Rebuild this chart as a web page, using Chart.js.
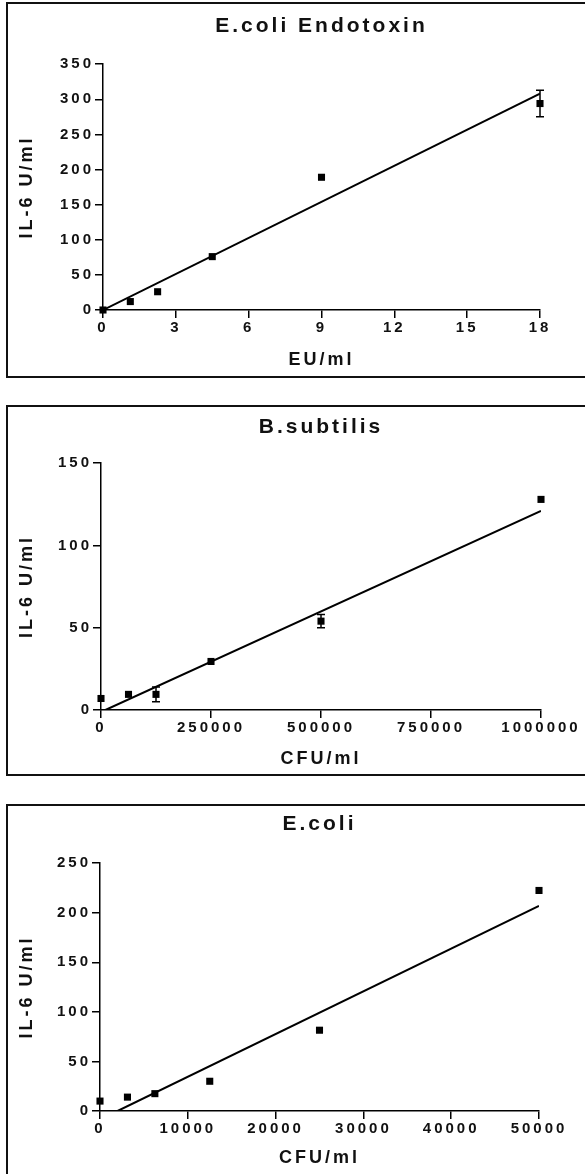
<!DOCTYPE html>
<html>
<head>
<meta charset="utf-8">
<script src="https://cdn.jsdelivr.net/npm/chart.js@4.4.1/dist/chart.umd.min.js"></script>
<style>
body { margin: 0; background: #fff; width: 585px; height: 1174px; overflow: hidden; position: relative; }
.marco { position: absolute; left: 6px; width: 640px; border: 2px solid #111; box-sizing: border-box; }
canvas { position: absolute; left: 0; }
</style>
</head>
<body>
<div class="marco" style="top:2px;height:376px"></div>
<div class="marco" style="top:405px;height:371px"></div>
<div class="marco" style="top:804px;height:420px"></div>
<canvas id="grafico1" width="585" height="374" style="top:3px"></canvas>
<canvas id="grafico2" width="585" height="369" style="top:406px"></canvas>
<canvas id="grafico3" width="585" height="369" style="top:805px"></canvas>
<script>
// E.coli Endotoxin
var endotoxina_x = [0, 1.125, 2.25, 4.5, 9, 18];
var endotoxina_y = [0, 12, 26, 76, 189, 294];
var endotoxina_err = [0, 0, 0, 0, 0, 19];
var endotoxina_ajuste_x = [0, 18];
var endotoxina_ajuste_y = [0, 308];

// B.subtilis
var subtilis_x = [0, 62500, 125000, 250000, 500000, 1000000];
var subtilis_y = [7, 9.5, 9.5, 29.5, 54, 128];
var subtilis_err = [0, 0, 4.5, 0, 4, 0];
var subtilis_ajuste_x = [10000, 1000000];
var subtilis_ajuste_y = [0, 121];

// E.coli
var ecoli_x = [0, 3125, 6250, 12500, 25000, 50000];
var ecoli_y = [10, 14, 17.5, 30, 81.5, 222.5];
var ecoli_err = [0, 0, 0, 0, 0, 0];
var ecoli_ajuste_x = [2000, 50000];
var ecoli_ajuste_y = [0, 207];

var fuente = "'Liberation Sans', Arial, sans-serif";

function puntos(xs, ys) {
    return xs.map(function (x, i) { return { x: x, y: ys[i] }; });
}

const barrasError = {
    id: 'barrasError',
    afterDatasetsDraw(chart) {
        const ctx = chart.ctx;
        const sx = chart.scales.x;
        const sy = chart.scales.y;
        chart.data.datasets.forEach(function (ds) {
            if (!ds.errores) return;
            ctx.save();
            ctx.strokeStyle = '#000';
            ctx.lineWidth = 1.5;
            ds.data.forEach(function (p, i) {
                const e = ds.errores[i];
                if (!e) return;
                const px = sx.getPixelForValue(p.x);
                const arriba = sy.getPixelForValue(p.y + e);
                const abajo = sy.getPixelForValue(p.y - e);
                ctx.beginPath();
                ctx.moveTo(px, arriba); ctx.lineTo(px, abajo);
                ctx.moveTo(px - 4, arriba); ctx.lineTo(px + 4, arriba);
                ctx.moveTo(px - 4, abajo); ctx.lineTo(px + 4, abajo);
                ctx.stroke();
            });
            ctx.restore();
        });
    }
};

// the scanned figure has wide letter spacing on every label
const espaciado = {
    id: 'espaciado',
    beforeUpdate(chart) { chart.ctx.letterSpacing = '3px'; },
    beforeDraw(chart) { chart.ctx.letterSpacing = '3px'; }
};

function grafico(id, c) {
    const ctx = document.getElementById(id).getContext('2d');
    return new Chart(ctx, {
        type: 'scatter',
        data: {
            datasets: [{
                type: 'scatter',
                data: puntos(c.x, c.y),
                errores: c.err,
                pointStyle: 'rect',
                pointRadius: 5,
                backgroundColor: '#000',
                borderColor: '#000',
                borderWidth: 0,
                clip: false,
                order: 1
            }, {
                type: 'scatter',
                data: puntos(c.ajusteX, c.ajusteY),
                showLine: true,
                pointRadius: 0,
                borderColor: '#000',
                borderWidth: 2,
                order: 2
            }]
        },
        options: {
            responsive: false,
            animation: false,
            devicePixelRatio: 1,
            layout: { padding: { left: 0, right: c.derecha, top: 0, bottom: 0 } },
            plugins: {
                legend: { display: false },
                tooltip: { enabled: false },
                title: {
                    display: true,
                    fullSize: false,
                    text: c.titulo,
                    color: '#111',
                    font: { family: fuente, size: 21, weight: 'bold' },
                    padding: { top: c.tituloArriba, bottom: c.tituloAbajo }
                }
            },
            scales: {
                x: {
                    type: 'linear',
                    min: c.xMin, max: c.xMax,
                    afterFit: function (s) { s.height = c.altoX; },
                    border: { display: true, color: '#000', width: 1.5 },
                    grid: { display: true, drawOnChartArea: false, drawTicks: true, tickLength: 8, color: '#000', lineWidth: 1.5 },
                    ticks: {
                        stepSize: c.xPaso,
                        padding: 1,
                        color: '#111',
                        maxRotation: 0,
                        font: { family: fuente, size: 15, weight: 'bold' },
                        callback: function (v) { return String(v); }
                    },
                    title: {
                        display: true,
                        text: c.xTitulo,
                        color: '#111',
                        font: { family: fuente, size: 18, weight: 'bold' },
                        padding: { top: 0, bottom: c.xTituloAbajo }
                    }
                },
                y: {
                    type: 'linear',
                    min: 0, max: c.yMax,
                    afterFit: function (s) { s.width = c.anchoY; },
                    border: { display: true, color: '#000', width: 1.5 },
                    grid: { display: true, drawOnChartArea: false, drawTicks: true, tickLength: 8, color: '#000', lineWidth: 1.5 },
                    ticks: {
                        stepSize: 50,
                        padding: 1,
                        color: '#111',
                        font: { family: fuente, size: 15, weight: 'bold' },
                        callback: function (v) { return String(v); }
                    },
                    title: {
                        display: true,
                        text: 'IL-6 U/ml',
                        color: '#111',
                        font: { family: fuente, size: 18, weight: 'bold' },
                        padding: { top: 16, bottom: 0 }
                    }
                }
            }
        },
        plugins: [espaciado, barrasError]
    });
}

grafico('grafico1', {
    titulo: 'E.coli Endotoxin', xTitulo: 'EU/ml',
    x: endotoxina_x, y: endotoxina_y, err: endotoxina_err,
    ajusteX: endotoxina_ajuste_x, ajusteY: endotoxina_ajuste_y,
    xMin: 0, xMax: 18, xPaso: 3, yMax: 350,
    derecha: 45, anchoY: 103, altoX: 67, xTituloAbajo: 6,
    tituloArriba: 11, tituloAbajo: 25
});

grafico('grafico2', {
    titulo: 'B.subtilis', xTitulo: 'CFU/ml',
    x: subtilis_x, y: subtilis_y, err: subtilis_err,
    ajusteX: subtilis_ajuste_x, ajusteY: subtilis_ajuste_y,
    xMin: 0, xMax: 1000000, xPaso: 250000, yMax: 150,
    derecha: 44, anchoY: 101, altoX: 65, xTituloAbajo: 5,
    tituloArriba: 9, tituloAbajo: 23
});

grafico('grafico3', {
    titulo: 'E.coli', xTitulo: 'CFU/ml',
    x: ecoli_x, y: ecoli_y, err: ecoli_err,
    ajusteX: ecoli_ajuste_x, ajusteY: ecoli_ajuste_y,
    xMin: 0, xMax: 50000, xPaso: 10000, yMax: 250,
    derecha: 46, anchoY: 100, altoX: 63, xTituloAbajo: 5,
    tituloArriba: 7, tituloAbajo: 26
});
</script>
</body>
</html>
